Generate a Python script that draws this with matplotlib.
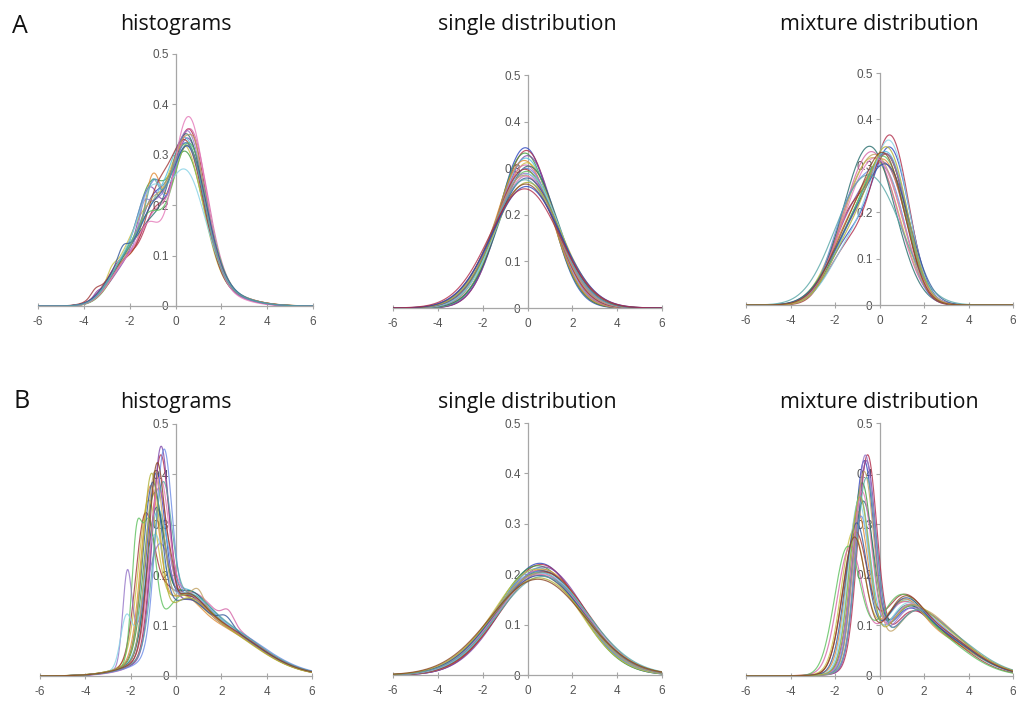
import numpy as np
import matplotlib
matplotlib.use("Agg")
import matplotlib.pyplot as plt

# ---------------- data ----------------
# Each curve is a list of normal components (weight, mean, sd)
x_ticks = [-6, -4, -2, 0, 2, 4, 6]
y_ticks = [0, 0.1, 0.2, 0.3, 0.4, 0.5]
y_tick_labels = ["0", "0.1", "0.2", "0.3", "0.4", "0.5"]
titles = ["histograms", "single distribution", "mixture distribution"]
row_labels = ["A", "B"]

A_hist = [
    [(.60, .45, .80), (.14, -1.00, .50), (.20, -2.0, .80), (.10, 1.5, 1.3)],
    [(.63, .55, .76), (.12, -0.95, .45), (.20, -2.1, .80), (.09, 1.6, 1.3)],
    [(.58, .40, .82), (.16, -1.10, .50), (.20, -1.9, .80), (.10, 1.4, 1.4)],
    [(.61, .50, .78), (.17, -1.15, .45), (.17, -2.0, .80), (.09, 1.5, 1.3), (.006, -3.4, .2)],
    [(.64, .40, .82), (.09, -1.00, .50), (.22, -1.9, .85), (.09, 1.5, 1.3)],
    [(.58, .50, .78), (.16, -1.00, .38), (.19, -2.0, .80), (.10, 1.6, 1.3)],
    [(.61, .35, .82), (.12, -1.20, .55), (.20, -2.0, .80), (.10, 1.5, 1.4), (.008, -2.8, .2)],
    [(.62, .60, .76), (.13, -0.95, .50), (.19, -2.0, .80), (.10, 1.5, 1.2)],
    [(.64, .45, .80), (.07, -1.10, .50), (.22, -1.9, .85), (.09, 1.5, 1.3)],
    [(.58, .45, .78), (.15, -1.20, .45), (.20, -2.0, .80), (.10, 1.6, 1.3), (.02, -0.8, .2)],
    [(.61, .40, .80), (.14, -0.90, .50), (.19, -2.1, .85), (.10, 1.5, 1.4), (.006, -3.5, .2)],
    [(.60, .55, .80), (.12, -1.10, .50), (.20, -2.0, .78), (.10, 1.5, 1.3)],
    [(.62, .50, .76), (.14, -1.00, .50), (.18, -2.0, .80), (.09, 1.5, 1.3), (.02, -1.4, .2)],
    [(.56, .35, .90), (.14, -1.10, .50), (.20, -2.0, .80), (.10, 1.5, 1.3)],
    [(.61, .45, .78), (.13, -1.05, .50), (.20, -1.9, .82), (.10, 1.6, 1.3), (.015, 0.9, .2)],
    [(.66, .55, .74), (.10, -1.15, .45), (.18, -2.0, .80), (.08, 1.5, 1.2)],
    [(.60, .50, .82), (.15, -1.00, .55), (.19, -2.1, .80), (.10, 1.5, 1.3), (.01, -2.3, .2)],
    [(.60, .45, .80), (.13, -1.05, .50), (.20, -2.0, .80), (.10, 1.5, 1.3), (.02, -1.0, .2)],
]

A_single_mean = [-0.10, -0.05, -0.12, 0.00, -0.08, -0.15, -0.02, -0.10, 0.05, -0.06, -0.12,
                 -0.04, -0.09, 0.02, -0.14, -0.07, -0.03, -0.11, 0.00, -0.08, -0.05, -0.13]
A_single_sd = [1.16, 1.18, 1.20, 1.22, 1.24, 1.26, 1.28, 1.30, 1.31, 1.33, 1.34,
               1.36, 1.38, 1.39, 1.40, 1.41, 1.43, 1.45, 1.48, 1.50, 1.53, 1.56]

A_mix = [
    [(.66, .55, .84), (.34, -1.30, 1.00)],
    [(.68, .55, .80), (.32, -1.25, 1.00)],
    [(.62, .45, .88), (.38, -1.20, 1.00)],
    [(.60, .40, .90), (.40, -1.30, .95)],
    [(.60, .50, .86), (.40, -1.10, 1.00)],
    [(.63, .35, .92), (.37, -1.35, 1.00)],
    [(.56, .15, 1.00), (.44, -1.20, 1.05)],
    [(.60, .00, 1.05), (.40, -1.10, 1.10)],
    [(.56, -.10, 1.05), (.44, -1.00, 1.10)],
    [(.52, .40, .84), (.48, -1.25, .90)],
    [(.60, .45, .80), (.40, -1.30, .85)],
    [(.70, .30, .95), (.30, -1.50, 1.00)],
    [(.68, .40, .90), (.32, -1.40, .95)],
    [(.64, .55, .82), (.36, -1.10, 1.05)],
    [(.58, .25, .95), (.42, -1.15, .95)],
    [(.66, .15, 1.02), (.34, -1.30, 1.00)],
    [(.60, .50, .95), (.40, -1.20, 1.10)],
    [(.50, .20, 1.20), (.50, -1.20, 1.20)],
    [(.66, .45, .86), (.34, -1.25, .98)],
    [(.61, .35, .88), (.39, -1.25, 1.02)],
]

B_hist = [
    [(.33, -0.90, .40), (.15, 0.3, .8), (.50, 1.5, 2.0)],
    [(.34, -0.70, .38), (.15, 0.4, .8), (.50, 1.6, 2.0)],
    [(.30, -1.00, .42), (.16, 0.2, .8), (.52, 1.4, 2.0)],
    [(.34, -0.68, .36), (.13, 0.4, .8), (.50, 1.6, 2.0)],
    [(.27, -0.85, .45), (.18, 0.3, .9), (.52, 1.5, 2.0)],
    [(.31, -1.15, .40), (.15, 0.1, .8), (.51, 1.4, 2.0)],
    [(.29, -1.25, .42), (.17, 0.0, .9), (.52, 1.4, 2.0)],
    [(.32, -0.80, .42), (.14, 0.5, .8), (.52, 1.6, 1.9), (.015, 2.3, .25)],
    [(.25, -0.90, .40), (.18, 0.3, .9), (.52, 1.5, 2.0)],
    [(.33, -0.55, .36), (.14, 0.5, .8), (.51, 1.7, 2.0)],
    [(.26, -1.40, .40), (.10, -0.6, .5), (.13, 0.5, .8), (.50, 1.5, 2.0)],
    [(.18, -1.20, .30), (.12, -1.75, .22), (.17, 0.2, .9), (.52, 1.5, 2.0)],
    [(.09, -2.15, .20), (.12, -1.2, .45), (.13, -0.6, .4), (.14, 0.5, .9), (.50, 1.5, 2.0)],
    [(.06, -2.20, .25), (.23, -1.0, .45), (.17, 0.3, .9), (.52, 1.5, 2.0)],
    [(.32, -0.95, .38), (.15, 0.3, .8), (.50, 1.5, 2.0), (.015, 1.0, .25)],
    [(.30, -0.75, .40), (.16, 0.2, .8), (.52, 1.5, 2.0)],
    [(.34, -1.05, .42), (.13, 0.3, .8), (.51, 1.5, 2.0), (.015, 2.2, .3)],
    [(.29, -0.60, .40), (.16, 0.4, .9), (.52, 1.6, 2.0)],
    [(.32, -1.10, .38), (.15, 0.3, .9), (.50, 1.4, 2.0)],
    [(.31, -0.85, .36), (.15, 0.3, .8), (.52, 1.5, 2.0), (.015, -0.2, .15)],
]

B_single_mean = [0.55, 0.60, 0.45, 0.70, 0.50, 0.65, 0.40, 0.58, 0.62, 0.48,
                 0.72, 0.52, 0.56, 0.66, 0.44, 0.60, 0.54, 0.68, 0.50, 0.46]
B_single_sd = [1.80, 1.82, 1.84, 1.86, 1.88, 1.90, 1.90, 1.92, 1.93, 1.94,
               1.95, 1.96, 1.97, 1.98, 1.99, 2.00, 2.02, 2.04, 2.07, 2.10]

B_mix = [
    [(.45, -0.70, .45), (.12, 1.2, .8), (.38, 2.2, 1.8)],
    [(.44, -0.55, .43), (.10, 1.3, .8), (.40, 2.3, 1.8)],
    [(.41, -0.80, .46), (.13, 1.1, .8), (.40, 2.2, 1.8)],
    [(.44, -0.60, .44), (.09, 1.4, .9), (.42, 2.3, 1.7)],
    [(.38, -0.90, .46), (.15, 1.0, .8), (.40, 2.1, 1.8)],
    [(.36, -1.00, .48), (.16, 1.0, .8), (.40, 2.1, 1.9)],
    [(.34, -1.20, .52), (.16, 0.9, .9), (.42, 2.0, 1.9)],
    [(.32, -1.35, .55), (.14, 0.9, .9), (.46, 2.0, 1.9)],
    [(.40, -0.75, .50), (.12, 1.2, .8), (.40, 2.2, 1.8)],
    [(.30, -0.85, .42), (.12, 1.1, .9), (.44, 2.1, 1.8)],
    [(.36, -1.10, .55), (.20, 0.9, .9), (.38, 2.1, 1.7)],
    [(.35, -1.45, .58), (.20, 0.8, .9), (.38, 2.0, 1.7)],
    [(.43, -0.65, .42), (.11, 1.3, .8), (.40, 2.2, 1.8)],
    [(.38, -0.95, .47), (.13, 1.1, .8), (.42, 2.2, 1.8)],
    [(.43, -0.70, .45), (.09, 1.5, .9), (.42, 2.3, 1.7)],
    [(.39, -0.80, .46), (.12, 1.2, .8), (.42, 2.2, 1.8)],
    [(.35, -1.05, .50), (.15, 1.0, .8), (.42, 2.1, 1.8)],
    [(.42, -0.60, .46), (.08, 1.5, .8), (.44, 2.3, 1.8)],
    [(.37, -0.90, .45), (.12, 1.2, .9), (.44, 2.2, 1.8)],
    [(.33, -1.15, .52), (.15, 1.0, .8), (.44, 2.1, 1.8)],
]

palette = ['#2a44c0', '#b02a48', '#3c9a3c', '#7c44a8', '#4cbcdc', '#e08a34', '#c8c040',
           '#d462a6', '#226a6a', '#6a8ae6', '#a03434', '#5cc05c', '#9474c8', '#86d2e6',
           '#c0a060', '#e478b8', '#30549a', '#56a6a6', '#b0b034', '#8a4424']


# ---------------- helpers ----------------
def normal_pdf(x, m, s):
    return np.exp(-0.5 * ((x - m) / s) ** 2) / (s * np.sqrt(2 * np.pi))


def mixture(x, comps):
    return sum(w * normal_pdf(x, m, s) for (w, m, s) in comps)


W, H = 1016, 702
fig = plt.figure(figsize=(W / 100, H / 100), dpi=100)
fig.patch.set_facecolor('white')


def make_axes(x_left, x_right, y_zero, y_half):
    return fig.add_axes([x_left / W, 1 - y_zero / H, (x_right - x_left) / W, (y_zero - y_half) / H])


axis_color = '#a6a6a6'
label_color = '#555555'


def style(ax):
    ax.set_xlim(-6, 6)
    ax.set_ylim(0, 0.5)
    ax.patch.set_visible(False)
    for sp in ['top', 'right']:
        ax.spines[sp].set_visible(False)
    ax.spines['left'].set_position(('data', 0))
    for sp in ['left', 'bottom']:
        ax.spines[sp].set_color(axis_color)
        ax.spines[sp].set_linewidth(0.9)
    ax.set_xticks(x_ticks)
    ax.set_xticklabels([str(t) for t in x_ticks], fontfamily='Liberation Sans')
    ax.set_yticks(y_ticks)
    ax.set_yticklabels(y_tick_labels, fontfamily='Liberation Sans')
    ax.tick_params(axis='x', direction='inout', length=4, width=0.8, color=axis_color,
                   labelsize=8.5, labelcolor=label_color, pad=5)
    ax.tick_params(axis='y', direction='out', length=3, width=0.8, color=axis_color,
                   labelsize=8.5, labelcolor=label_color, pad=2)
    ax.set_axisbelow(True)


x = np.linspace(-6, 6, 800)
lw, alpha = 0.85, 0.8

# panel geometry in pixels: (x of -6, x of 6, y of 0, y of 0.5)
geom = {
    'A_hist': (38, 313, 306, 54),
    'A_single': (393, 662, 308, 75),
    'A_mix': (746, 1013, 305, 73),
    'B_hist': (40, 312, 676, 424),
    'B_single': (393, 662, 675, 423),
    'B_mix': (746, 1013, 676, 423),
}

panels = {
    'A_hist': [mixture(x, c) for c in A_hist],
    'A_single': [normal_pdf(x, m, s) for m, s in zip(A_single_mean, A_single_sd)],
    'A_mix': [mixture(x, c) for c in A_mix],
    'B_hist': [mixture(x, c) for c in B_hist],
    'B_single': [normal_pdf(x, m, s) for m, s in zip(B_single_mean, B_single_sd)],
    'B_mix': [mixture(x, c) for c in B_mix],
}

for key, curves in panels.items():
    ax = make_axes(*geom[key])
    style(ax)
    for i, y in enumerate(curves):
        ax.plot(x, y, color=palette[i % len(palette)], lw=lw, alpha=alpha, zorder=3)

# titles
title_font = dict(fontfamily='Open Sans', fontsize=15.3, color='#111111', ha='center', va='baseline')
centers = [(38 + 313) / 2, (393 + 662) / 2, (746 + 1013) / 2]
for row, base in zip(row_labels, [30, 408]):
    for cx, t in zip(centers, titles):
        fig.text(cx / W, 1 - base / H, t, **title_font)

fig.text(12 / W, 1 - 33 / H, 'A', fontfamily='Open Sans', fontsize=18, color='#111111',
         ha='left', va='baseline')
fig.text(13 / W, 1 - 408 / H, 'B', fontfamily='Open Sans', fontsize=18, color='#111111',
         ha='left', va='baseline')

fig.savefig('out.png', dpi=100, facecolor='white')
